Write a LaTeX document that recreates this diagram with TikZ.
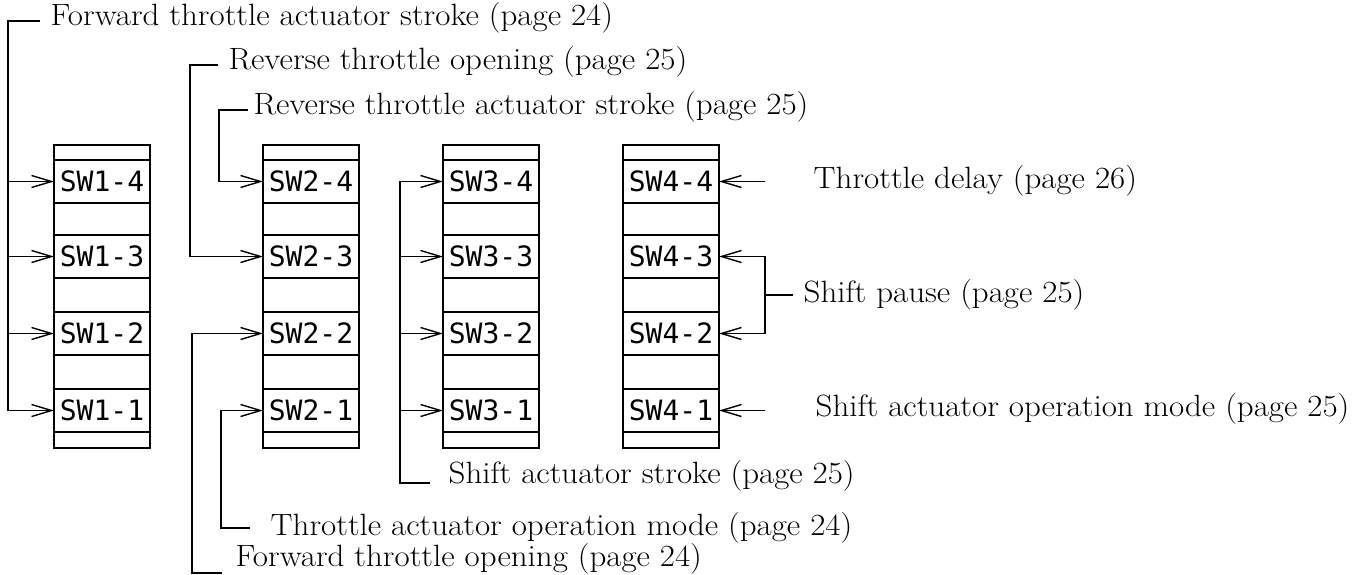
\documentclass[tikz,border=0pt]{standalone}
\usepackage{fontspec}
\usetikzlibrary{arrows.meta}
\newfontfamily\swfont{DejaVu Sans Mono}
\newfontfamily\lblfont{Latin Modern Roman}[FakeStretch=1.07]

\begin{document}
\begin{tikzpicture}[x=0.5pt, y=-0.5pt,
    line width=0.7pt,
    frame/.style={draw, line width=1.3pt},
    cell/.style={rectangle, draw, line width=1.1pt,
      minimum width=48pt, minimum height=21.5pt,
      inner sep=0pt, outer sep=0pt,
      font=\swfont\fontsize{14pt}{14pt}\selectfont},
    lbl/.style={anchor=base west, inner sep=0pt,
      font=\lblfont\fontsize{15.4pt}{18pt}\selectfont},
    arr/.style={-{Straight Barb[length=10pt,width=6pt]}}
    ]
\useasboundingbox (0,0) rectangle (1368,574);

% dip switch blocks
\draw[frame] (54,145) rectangle (150,448);
\draw[frame] (263,145) rectangle (359,448);
\draw[frame] (443,145) rectangle (539,448);
\draw[frame] (623,145) rectangle (719,448);

\node[cell] (sw14) at (102,181.5) {SW1-4};
\node[cell] (sw13) at (102,256.5) {SW1-3};
\node[cell] (sw12) at (102,333.5) {SW1-2};
\node[cell] (sw11) at (102,410.5) {SW1-1};

\node[cell] (sw24) at (311,181.5) {SW2-4};
\node[cell] (sw23) at (311,256.5) {SW2-3};
\node[cell] (sw22) at (311,333.5) {SW2-2};
\node[cell] (sw21) at (311,410.5) {SW2-1};

\node[cell] (sw34) at (491,181.5) {SW3-4};
\node[cell] (sw33) at (491,256.5) {SW3-3};
\node[cell] (sw32) at (491,333.5) {SW3-2};
\node[cell] (sw31) at (491,410.5) {SW3-1};

\node[cell] (sw44) at (671,181.5) {SW4-4};
\node[cell] (sw43) at (671,256.5) {SW4-3};
\node[cell] (sw42) at (671,333.5) {SW4-2};
\node[cell] (sw41) at (671,410.5) {SW4-1};

% labels
\node[lbl] (fwdstroke) at (50,25) {Forward throttle actuator stroke (page 24)};
\node[lbl] (revopen) at (228,69) {Reverse throttle opening (page 25)};
\node[lbl] (revstroke) at (253,114) {Reverse throttle actuator stroke (page 25)};
\node[lbl] (shiftstroke) at (448,483) {Shift actuator stroke (page 25)};
\node[lbl] (thropmode) at (270,535) {Throttle actuator operation mode (page 24)};
\node[lbl] (fwdopen) at (235,566) {Forward throttle opening (page 24)};
\node[lbl] (thrdelay) at (813,188) {Throttle delay (page 26)};
\node[lbl] (shiftpause) at (803,302) {Shift pause (page 25)};
\node[lbl] (shopmode) at (815,416) {Shift actuator operation mode (page 25)};

% bends
\coordinate (k1) at (8,21);
\coordinate (k2) at (190,65);
\coordinate (k3) at (219,110);
\coordinate (k4) at (400,483);
\coordinate (k5) at (221,528);
\coordinate (k6) at (192,573);
\coordinate (k7) at (765,295);
\coordinate (td) at (765,181.5);
\coordinate (so) at (765,410.5);

% switch 1
\draw[arr] ([xshift=-5pt,yshift=2pt]fwdstroke.base west) -- (k1) |- (sw11.west);
\draw[arr] (k1 |- sw14.west) -- (sw14.west);
\draw[arr] (k1 |- sw13.west) -- (sw13.west);
\draw[arr] (k1 |- sw12.west) -- (sw12.west);

% switch 2
\draw[arr] ([xshift=-5pt,yshift=2pt]revopen.base west) -- (k2) |- (sw23.west);
\draw[arr] ([xshift=-2.5pt,yshift=2pt]revstroke.base west) -- (k3) |- (sw24.west);
\draw[arr] ([xshift=-10pt,yshift=3.5pt]thropmode.base west) -- (k5) |- (sw21.west);
\draw[arr] ([xshift=-6.5pt,yshift=-3.5pt]fwdopen.base west) -- (k6) |- (sw22.west);

% switch 3
\draw[arr] ([xshift=-9pt]shiftstroke.base west) -- (k4) |- (sw34.west);
\draw[arr] (k4 |- sw33.west) -- (sw33.west);
\draw[arr] (k4 |- sw32.west) -- (sw32.west);
\draw[arr] (k4 |- sw31.west) -- (sw31.west);

% switch 4
\draw[arr] (td) -- (sw44.east);
\draw[arr] (k7) |- (sw43.east);
\draw[arr] (k7) |- (sw42.east);
\draw (k7) -- ([xshift=-5pt,yshift=3.5pt]shiftpause.base west);
\draw[arr] (so) -- (sw41.east);
\end{tikzpicture}
\end{document}
